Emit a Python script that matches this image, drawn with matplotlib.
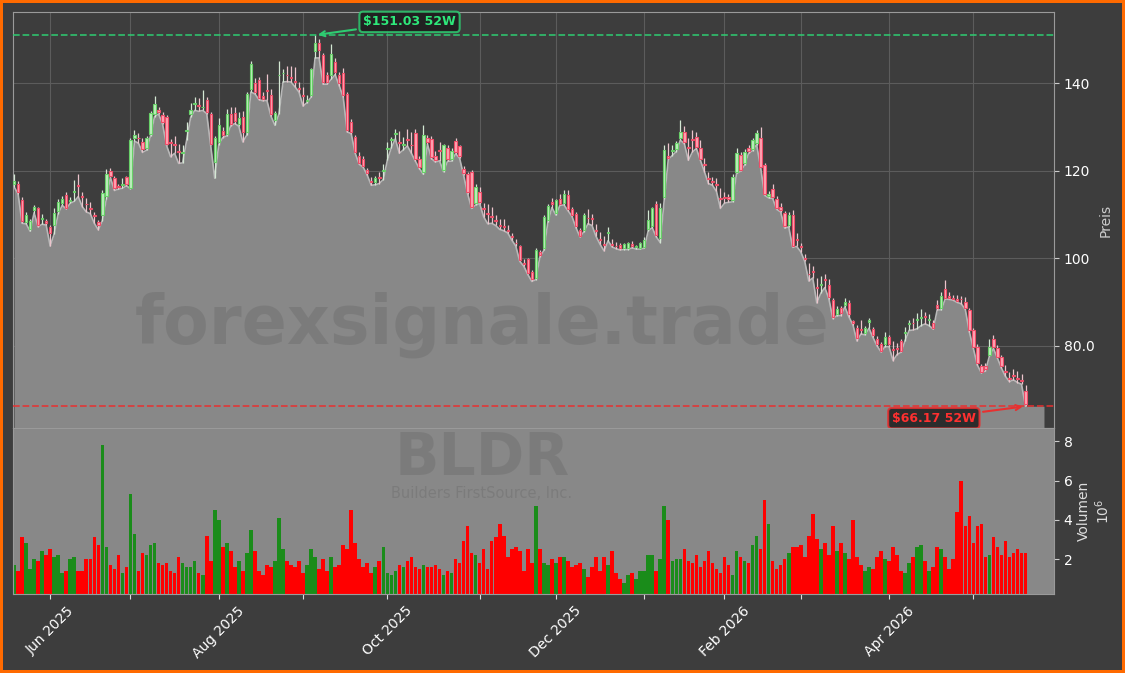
import numpy as np
import pandas as pd
import matplotlib
matplotlib.use("Agg")
import matplotlib.pyplot as plt
from matplotlib.patches import Rectangle

ticker = "BLDR"
company = "Builders FirstSource, Inc."
watermark = "forexsignale.trade"

# NYSE-Feiertage im Zeitraum
holidays = ["2025-05-26", "2025-06-19", "2025-07-04", "2025-09-01", "2025-11-27",
            "2025-12-25", "2026-01-01", "2026-01-19", "2026-02-16", "2026-04-03"]

# Tageskerzen (aus dem Bild geschaetzt)
opens = [116.9, 117.0, 113.4, 108.4, 106.7, 111.0, 111.4, 108.9, 108.6, 107.2,
         107.5, 110.9, 112.7, 114.5, 113.1, 115.1, 116.8, 114.2, 112.5, 111.5,
         109.8, 108.3, 109.9, 114.2, 119.9, 118.3, 116.6, 116.8, 118.5, 116.0,
         127.4, 127.6, 126.6, 125.3, 128.4, 133.0, 133.8, 132.7, 132.3, 126.6,
         126.2, 124.6, 124.0, 129.0, 133.0, 135.2, 135.0, 134.5, 136.1, 133.0,
         122.0, 126.6, 129.0, 128.5, 133.0, 133.2, 130.8, 132.3, 128.9, 138.6,
         140.0, 140.7, 137.2, 138.5, 137.3, 131.7, 141.8, 142.3, 142.0, 141.5,
         140.5, 139.0, 137.4, 136.0, 137.3, 147.4, 149.3, 146.4, 142.0, 141.8,
         144.9, 142.0, 142.3, 137.5, 131.2, 127.7, 123.4, 122.8, 120.2, 117.6,
         117.4, 118.6, 120.0, 125.0, 127.0, 128.5, 126.5, 126.0, 127.3, 126.0,
         128.7, 122.8, 119.8, 127.4, 127.2, 123.4, 124.8, 120.2, 125.3, 122.6,
         126.8, 125.6, 120.5, 119.2, 119.8, 112.6, 115.2, 111.4, 110.4, 109.7,
         108.7, 107.6, 107.3, 106.4, 105.1, 103.6, 102.8, 99.0, 99.8, 96.9,
         95.5, 101.5, 102.3, 108.8, 112.8, 110.3, 113.5, 112.6, 114.5, 111.2,
         110.1, 106.5, 106.5, 109.3, 109.2, 106.5, 104.4, 103.2, 105.8, 103.2,
         102.9, 103.0, 102.3, 102.4, 103.3, 102.6, 102.4, 102.6, 106.8, 107.4,
         112.5, 104.6, 113.9, 123.4, 124.6, 124.9, 127.6, 128.9, 125.5, 127.2,
         127.8, 125.3, 121.5, 118.4, 117.6, 116.9, 113.8, 114.0, 114.0, 113.3,
         119.8, 123.6, 121.7, 125.3, 125.0, 126.4, 127.6, 121.3, 114.3, 115.8,
         113.5, 111.8, 110.3, 107.6, 110.0, 104.4, 102.8, 100.0, 96.5, 97.0,
         93.5, 94.0, 95.2, 93.9, 90.4, 87.3, 88.6, 89.3, 89.7, 85.7,
         84.1, 83.8, 82.9, 85.5, 83.8, 81.6, 80.4, 80.3, 81.9, 79.2,
         79.4, 81.0, 83.0, 85.0, 85.3, 86.0, 86.4, 86.7, 86.0, 85.2,
         89.4, 88.6, 92.9, 91.4, 91.0, 90.8, 90.8, 90.1, 88.2, 83.6,
         79.8, 75.3, 75.3, 78.0, 81.5, 79.4, 77.5, 74.3, 72.6, 73.3,
         72.6, 72.2, 69.6]
highs = [119.2, 117.6, 114.0, 110.6, 109.0, 112.2, 111.8, 110.1, 109.0, 107.6,
         111.5, 113.6, 114.3, 115.2, 114.0, 118.0, 119.2, 115.2, 113.8, 112.9,
         110.6, 108.8, 115.6, 120.5, 120.6, 118.9, 117.0, 118.3, 118.9, 127.6,
         129.3, 128.7, 127.4, 128.0, 133.6, 137.0, 134.6, 133.5, 132.8, 127.2,
         128.0, 126.2, 126.0, 131.2, 135.6, 136.8, 136.6, 138.4, 136.9, 133.5,
         128.0, 132.0, 130.0, 134.2, 134.5, 134.6, 133.5, 133.7, 138.0, 145.0,
         141.2, 141.4, 138.0, 142.2, 138.8, 133.6, 145.2, 143.2, 144.0, 143.9,
         143.7, 140.3, 139.2, 137.4, 143.5, 151.03, 150.1, 147.0, 142.6, 148.9,
         145.8, 142.7, 143.5, 138.0, 131.8, 128.2, 124.2, 123.3, 120.7, 118.5,
         118.8, 119.7, 121.5, 126.6, 127.8, 129.6, 129.2, 127.8, 129.6, 128.9,
         129.5, 123.4, 130.4, 128.2, 127.9, 124.6, 126.5, 126.2, 125.9, 125.3,
         127.6, 126.0, 121.2, 119.7, 120.3, 116.9, 116.3, 112.6, 112.5, 111.8,
         110.0, 108.9, 108.9, 107.7, 105.8, 104.4, 103.1, 99.8, 100.1, 97.3,
         102.4, 102.0, 109.8, 112.4, 113.7, 113.6, 114.6, 115.7, 115.5, 111.8,
         110.6, 107.0, 110.3, 111.2, 110.2, 107.8, 106.0, 105.2, 107.1, 104.5,
         103.8, 103.5, 103.6, 103.8, 103.9, 103.1, 103.8, 104.9, 111.0, 111.8,
         113.0, 112.6, 125.8, 126.4, 126.0, 126.8, 131.6, 130.3, 127.5, 129.3,
         128.9, 127.0, 123.0, 119.8, 118.5, 118.3, 116.0, 115.2, 114.6, 119.3,
         125.3, 124.3, 125.0, 126.0, 127.6, 129.3, 130.0, 121.8, 115.4, 117.0,
         114.2, 112.6, 110.8, 110.6, 111.0, 105.7, 103.6, 101.0, 98.9, 98.3,
         95.5, 96.0, 96.5, 95.2, 91.0, 89.0, 89.2, 91.0, 90.5, 86.0,
         84.8, 85.9, 84.6, 86.4, 84.4, 82.2, 80.9, 83.2, 82.5, 81.0,
         80.6, 81.5, 84.3, 85.9, 86.3, 87.6, 88.4, 87.7, 87.2, 86.0,
         90.5, 92.2, 95.1, 92.2, 91.6, 91.5, 91.4, 91.2, 88.7, 84.0,
         80.3, 75.9, 76.0, 81.6, 82.5, 80.2, 78.0, 75.6, 74.0, 74.8,
         74.2, 73.6, 71.0]
lows = [116.3, 114.8, 108.0, 107.9, 106.2, 110.4, 107.2, 107.8, 107.6, 102.8,
        105.6, 110.2, 112.1, 111.3, 112.6, 113.0, 114.1, 111.8, 110.6, 110.2,
        108.0, 106.5, 108.6, 113.5, 118.5, 115.5, 115.8, 116.0, 116.6, 115.9,
        126.8, 126.3, 124.2, 124.7, 128.0, 132.4, 133.0, 130.7, 125.8, 123.2,
        124.0, 121.7, 121.8, 127.0, 132.2, 133.8, 133.6, 133.8, 133.1, 125.8,
        118.3, 126.0, 127.6, 128.0, 130.3, 130.8, 130.2, 126.6, 128.2, 138.0,
        137.6, 136.3, 136.0, 136.1, 132.5, 130.4, 133.0, 140.3, 140.4, 140.3,
        139.2, 138.0, 134.8, 135.6, 136.8, 145.8, 145.8, 139.8, 139.8, 140.9,
        142.0, 139.5, 136.9, 128.9, 128.5, 124.0, 121.5, 120.8, 119.0, 116.7,
        116.8, 117.1, 118.0, 122.4, 125.3, 127.3, 124.0, 124.8, 125.7, 124.0,
        122.2, 120.5, 119.2, 126.1, 122.8, 122.0, 122.3, 119.8, 122.2, 122.2,
        123.9, 122.9, 119.0, 114.8, 111.4, 112.2, 112.5, 109.5, 107.9, 108.0,
        107.5, 106.6, 106.3, 105.8, 104.2, 102.8, 99.3, 98.2, 96.3, 94.7,
        95.1, 100.3, 101.8, 108.3, 111.6, 109.9, 112.1, 112.2, 110.9, 109.6,
        107.0, 104.9, 106.1, 107.9, 107.5, 105.0, 103.2, 101.7, 104.0, 102.6,
        102.2, 101.9, 102.0, 102.0, 102.4, 102.1, 102.1, 102.3, 106.3, 107.0,
        104.9, 103.6, 113.5, 122.6, 123.5, 124.4, 127.0, 126.2, 122.4, 124.3,
        125.1, 122.4, 119.8, 117.1, 116.7, 115.3, 111.4, 112.6, 112.8, 112.9,
        119.4, 119.9, 121.3, 124.0, 124.6, 126.0, 120.8, 114.4, 113.8, 113.7,
        111.2, 110.6, 106.9, 107.2, 102.5, 102.7, 101.5, 99.3, 94.8, 95.5,
        89.8, 92.0, 93.3, 90.8, 86.2, 86.9, 86.9, 88.9, 86.6, 84.8,
        81.1, 82.7, 82.5, 84.0, 81.9, 80.0, 78.6, 79.8, 79.8, 76.6,
        78.0, 78.5, 81.2, 83.5, 83.6, 83.9, 84.6, 85.0, 84.6, 83.8,
        88.2, 88.2, 90.7, 90.6, 90.4, 89.9, 89.6, 88.3, 83.2, 79.4,
        75.6, 73.8, 74.2, 77.6, 79.4, 77.2, 74.9, 73.0, 71.8, 72.2,
        71.6, 71.2, 66.17]
closes = [117.7, 115.2, 108.5, 110.0, 108.5, 111.7, 107.6, 109.1, 108.1, 105.7,
          110.4, 112.9, 113.6, 111.6, 113.4, 115.3, 116.6, 114.0, 112.3, 111.3,
          109.6, 107.6, 115.0, 119.2, 118.8, 116.0, 116.2, 117.0, 117.0, 127.0,
          128.1, 127.4, 124.9, 127.4, 133.2, 135.2, 133.4, 131.2, 126.2, 126.3,
          126.0, 124.3, 124.2, 129.3, 134.0, 135.4, 134.8, 134.7, 133.5, 126.2,
          127.4, 130.4, 128.1, 133.0, 130.8, 131.3, 132.1, 128.9, 137.5, 144.5,
          138.0, 136.7, 136.4, 138.3, 132.9, 133.2, 142.0, 142.4, 141.8, 141.3,
          140.3, 138.8, 137.2, 136.3, 143.3, 149.2, 147.7, 140.3, 140.3, 146.6,
          142.6, 140.0, 137.3, 129.3, 128.9, 124.3, 121.8, 121.1, 119.4, 117.5,
          118.3, 118.4, 120.2, 125.2, 127.2, 128.7, 126.3, 126.2, 127.1, 125.8,
          122.6, 120.8, 128.1, 126.5, 123.2, 122.4, 124.6, 125.9, 122.6, 124.5,
          124.3, 123.4, 119.4, 115.2, 111.8, 116.4, 112.9, 111.2, 110.2, 109.5,
          108.5, 107.4, 107.1, 106.2, 104.9, 103.4, 99.6, 98.8, 96.6, 95.2,
          101.9, 100.8, 109.4, 111.9, 112.4, 113.3, 112.4, 114.6, 111.2, 110.0,
          107.4, 105.2, 109.8, 109.1, 109.0, 106.3, 104.2, 103.0, 106.0, 103.0,
          102.7, 102.3, 103.2, 103.4, 102.9, 102.8, 103.4, 104.2, 108.8, 111.5,
          105.3, 111.4, 124.7, 123.0, 124.8, 126.4, 128.9, 126.6, 125.3, 127.0,
          125.5, 122.8, 121.3, 118.2, 117.4, 116.7, 113.6, 113.8, 113.5, 118.6,
          124.1, 120.2, 124.3, 124.5, 127.0, 128.6, 120.9, 114.8, 114.8, 114.1,
          111.6, 111.0, 107.3, 110.0, 102.9, 104.2, 102.6, 99.8, 96.3, 96.8,
          93.3, 94.2, 95.0, 91.2, 86.6, 88.5, 87.4, 90.1, 87.2, 85.2,
          81.8, 83.6, 84.1, 85.8, 82.5, 80.4, 78.9, 81.9, 80.3, 79.0,
          79.2, 78.9, 83.2, 85.2, 85.1, 86.2, 86.6, 86.5, 86.2, 84.1,
          88.6, 91.4, 91.0, 90.9, 90.7, 90.2, 90.6, 88.6, 83.6, 79.8,
          76.0, 74.1, 74.6, 79.8, 79.8, 77.5, 75.3, 74.1, 72.4, 73.1,
          72.4, 72.0, 66.7]
# Volumen in Mio.
volumes = [1.7, 1.4, 3.1, 2.8, 1.5, 2.0, 1.9, 2.4, 2.2, 2.5,
           2.1, 2.2, 1.3, 1.4, 2.0, 2.1, 1.4, 1.4, 2.0, 2.0,
           3.1, 2.7, 7.8, 2.6, 1.7, 1.5, 2.2, 1.3, 1.6, 5.3,
           3.3, 1.4, 2.3, 2.2, 2.7, 2.8, 1.8, 1.7, 1.8, 1.4,
           1.3, 2.1, 1.8, 1.6, 1.6, 1.9, 1.3, 1.2, 3.2, 1.9,
           4.5, 4.0, 2.6, 2.8, 2.4, 1.6, 1.9, 1.4, 2.3, 3.5,
           2.4, 1.4, 1.2, 1.7, 1.6, 1.9, 4.1, 2.5, 1.9, 1.7,
           1.6, 1.9, 1.3, 1.7, 2.5, 2.1, 1.5, 2.0, 1.4, 2.1,
           1.6, 1.7, 2.7, 2.5, 4.5, 2.8, 2.0, 1.6, 1.8, 1.3,
           1.6, 1.9, 2.6, 1.3, 1.2, 1.4, 1.7, 1.6, 1.9, 2.1,
           1.6, 1.5, 1.7, 1.6, 1.6, 1.7, 1.5, 1.2, 1.4, 1.3,
           2.0, 1.8, 2.9, 3.7, 2.3, 2.2, 1.8, 2.5, 1.5, 2.9,
           3.1, 3.8, 3.2, 2.1, 2.5, 2.6, 2.4, 1.4, 2.5, 1.8,
           4.7, 2.5, 1.8, 1.7, 2.0, 1.8, 2.1, 2.1, 1.9, 1.6,
           1.7, 1.8, 1.5, 1.1, 1.6, 2.1, 1.4, 2.1, 1.7, 2.4,
           1.3, 1.0, 0.8, 1.2, 1.3, 1.0, 1.4, 1.4, 2.2, 2.2,
           1.4, 2.0, 4.7, 4.0, 1.9, 2.0, 2.0, 2.5, 1.9, 1.8,
           2.2, 1.6, 1.9, 2.4, 1.8, 1.5, 1.3, 2.1, 1.7, 1.2,
           2.4, 2.1, 1.9, 1.8, 2.7, 3.2, 2.5, 5.0, 3.8, 1.9,
           1.5, 1.7, 2.0, 2.3, 2.6, 2.6, 2.7, 2.1, 3.2, 4.3,
           3.0, 2.5, 2.8, 2.2, 3.7, 2.4, 2.8, 2.3, 2.0, 4.0,
           2.1, 1.7, 1.4, 1.6, 1.5, 2.1, 2.4, 2.0, 1.9, 2.6,
           2.2, 1.4, 1.3, 1.8, 2.1, 2.6, 2.7, 1.9, 1.4, 1.6,
           2.6, 2.5, 2.1, 1.5, 2.0, 4.4, 6.0, 3.7, 4.2, 2.8,
           3.7, 3.8, 2.1, 2.2, 3.1, 2.6, 2.2, 2.9, 2.1, 2.3,
           2.5, 2.3, 2.3]

n = len(closes)
dates = pd.bdate_range("2025-05-19", periods=n, freq="C", holidays=holidays)
x = np.arange(n)

bg = "#3d3d3d"
fill_col = "#888888"
up_face, up_edge = "#bdeebd", "#68d068"
dn_face, dn_edge = "#ffa3b3", "#ee4d68"

fig = plt.figure(figsize=(11.25, 6.73), dpi=100, facecolor=bg)
fig.patch.set_edgecolor("#ff6a00")
fig.patch.set_linewidth(4)

ax = fig.add_axes([0.0116, 0.3641, 0.9253, 0.6181])
axv = fig.add_axes([0.0116, 0.1174, 0.9253, 0.2467], sharex=ax)
ax.set_facecolor(bg)
axv.set_facecolor(fill_col)

hi = max(highs)
lo = min(lows)
hi_i = highs.index(hi)
lo_i = lows.index(lo)
ymin, ymax = lo * 0.925, hi * 1.035

# Flaeche unter den Tiefs
xf = np.append(x, n + 3.6)
lf = np.append(lows, lows[-1])
ax.fill_between(xf, lf, ymin, color=fill_col, zorder=1, lw=0)
ax.plot(x, lows, color="#b8b8b8", lw=1.2, zorder=2)

# Kerzen
for i in range(n):
    o, h, l, c = opens[i], highs[i], lows[i], closes[i]
    up = c >= o
    ax.vlines(i, l, h, color="#d4e8d4" if up else "#ecc4cc", lw=0.9, zorder=3)
    b0 = min(o, c)
    bh = max(abs(c - o), 0.15)
    ax.add_patch(Rectangle((i - 0.3, b0), 0.6, bh,
                           facecolor=up_face if up else dn_face,
                           edgecolor=up_edge if up else dn_edge,
                           lw=0.8, zorder=4))

# 52W-Linien
ax.axhline(hi, color="#2ecc71", ls="--", lw=1.3, alpha=0.85, zorder=5)
ax.axhline(lo, color="#e83030", ls="--", lw=1.3, alpha=0.85, zorder=5)
ax.annotate(f"${hi:.2f} 52W", xy=(hi_i, hi), xytext=(68, 9.5), textcoords="offset points",
            ha="center", va="center", color="#2ee87a", fontsize=9, fontweight="bold",
            bbox=dict(boxstyle="round,pad=0.3", fc="#1c1c1c", ec="#2ecc71", lw=1.5, alpha=0.85),
            arrowprops=dict(arrowstyle="->", color="#2ecc71", lw=1.5), zorder=6)
ax.annotate(f"${lo:.2f} 52W", xy=(lo_i, lo), xytext=(-66, -8.6), textcoords="offset points",
            ha="center", va="center", color="#ff3030", fontsize=9, fontweight="bold",
            bbox=dict(boxstyle="round,pad=0.3", fc="#1c1c1c", ec="#e83030", lw=1.5, alpha=0.85),
            arrowprops=dict(arrowstyle="->", color="#e83030", lw=1.5), zorder=6)

ax.set_ylim(ymin, ymax)
ax.set_xlim(-0.25, n + 6.1)

# Monats-Ticks
month_pos = [i for i in range(1, n) if dates[i].month != dates[i - 1].month]
month_lab = [dates[i].strftime("%b %Y") if dates[i].month % 2 == 0 else "" for i in month_pos]

ax.set_axisbelow(True)
ax.grid(True, color="#5c5c5c", lw=0.8)
ax.set_xticks(month_pos)
ax.tick_params(axis="x", length=0, labelbottom=False)
ax.yaxis.tick_right()
ax.yaxis.set_label_position("right")
ax.set_yticks([80, 100, 120, 140])
ax.set_yticklabels(["80.0", "100", "120", "140"])
ax.tick_params(axis="y", colors="#cccccc", labelcolor="white", labelsize=10)
ax.set_ylabel("Preis", color="#cccccc", fontsize=10, labelpad=3)

# Volumen
vcol = ["#1a8c1a" if closes[i] >= opens[i] else "#ff0000" for i in range(n)]
axv.bar(x, volumes, width=0.9, color=vcol, zorder=2)
axv.set_ylim(0.22, 8.68)
axv.yaxis.tick_right()
axv.yaxis.set_label_position("right")
axv.set_yticks([2, 4, 6, 8])
axv.tick_params(axis="y", colors="#cccccc", labelcolor="white", labelsize=10)
axv.set_ylabel("Volumen\n$10^6$", color="#dddddd", fontsize=10, labelpad=3)
axv.set_xticks(month_pos)
axv.set_xticklabels(month_lab, rotation=45)
axv.tick_params(axis="x", colors="#dddddd", labelcolor="white", labelsize=10)

for a in (ax, axv):
    for s in a.spines.values():
        s.set_color("#9a9a9a")
        s.set_linewidth(0.8)

# Wasserzeichen
fig.text(0.4284, 0.517, watermark, fontsize=48, fontweight="bold", color="#656565",
         alpha=0.35, ha="center", va="center")
fig.text(0.4284, 0.318, ticker, fontsize=42, fontweight="bold", color="#656565",
         alpha=0.35, ha="center", va="center")
fig.text(0.4284, 0.266, company, fontsize=10.5, color="#656565", alpha=0.35,
         ha="center", va="center")

fig.savefig("out.png", dpi=100, facecolor=bg)
